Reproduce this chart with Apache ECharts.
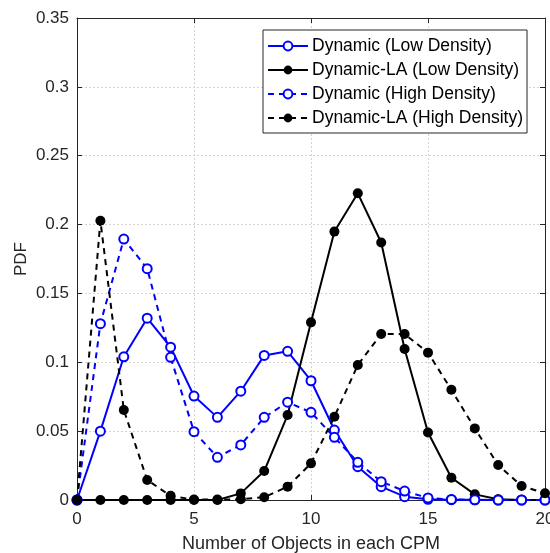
<!DOCTYPE html>
<html>
<head>
<meta charset="utf-8">
<script src="https://cdn.jsdelivr.net/npm/echarts@6/dist/echarts.min.js"></script>
<style>
  html, body { margin: 0; padding: 0; background: #fff; }
  #chart { width: 550px; height: 553px; }
</style>
</head>
<body>
<div id="chart"></div>
<script>
// Number of objects in each CPM (x positions)
const objectCounts = [0,1,2,3,4,5,6,7,8,9,10,11,12,13,14,15,16,17,18,19,20];

// PDF values per scheme
const dynamicLow = [0, 0.050, 0.104, 0.132, 0.111, 0.0755, 0.060, 0.079, 0.105, 0.108, 0.0866, 0.0508, 0.0242, 0.0097, 0.0024, 0.0005, 0.0002, 0.0001, 0, 0, 0];
const dynamicLALow = [0, 0, 0, 0, 0, 0, 0, 0.0048, 0.021, 0.0617, 0.129, 0.1949, 0.2227, 0.187, 0.1096, 0.049, 0.0162, 0.0041, 0.0005, 0, 0];
const dynamicHigh = [0, 0.128, 0.1895, 0.168, 0.1036, 0.0496, 0.031, 0.040, 0.060, 0.071, 0.0637, 0.0455, 0.0274, 0.0133, 0.0065, 0.0015, 0.0004, 0.0001, 0, 0, 0];
const dynamicLAHigh = [0, 0.2028, 0.0654, 0.0145, 0.003, 0.0003, 0.0003, 0.0005, 0.002, 0.0097, 0.0266, 0.0605, 0.098, 0.1205, 0.1205, 0.107, 0.080, 0.052, 0.0254, 0.0102, 0.0049];

const seriesNames = [
  'Dynamic (Low Density)',
  'Dynamic-LA (Low Density)',
  'Dynamic (High Density)',
  'Dynamic-LA (High Density)'
];

// x tick values and y tick values
const xTicks = [0, 5, 10, 15, 20];
const yTicks = [0, 0.05, 0.1, 0.15, 0.2, 0.25, 0.3, 0.35];

const pairs = (ys) => objectCounts.map((x, i) => [x, ys[i]]);

const BLUE = '#0000ff';
const BLACK = '#000000';
const FONT = 'Liberation Sans';
const AXIS_COLOR = '#262626';

function lineSeries(name, ys, color, dashed, filled) {
  return {
    name: name,
    type: 'line',
    data: pairs(ys),
    symbol: 'circle',
    symbolSize: filled ? 10 : 9,
    showAllSymbol: true,
    lineStyle: { color: color, width: 2, type: dashed ? [6, 5] : 'solid' },
    itemStyle: {
      color: filled ? color : '#ffffff',
      borderColor: color,
      borderWidth: filled ? 0 : 2
    },
    emphasis: { disabled: true },
    animation: false,
    z: 3
  };
}

const chart = echarts.init(document.getElementById('chart'), null, { renderer: 'canvas' });

const gridLine = { show: true, lineStyle: { color: '#d4d4d4', type: [2, 2], width: 1 } };
const frameAxisLine = { show: true, onZero: false, lineStyle: { color: AXIS_COLOR, width: 1 } };
const innerTicks = { show: true, inside: true, length: 5, lineStyle: { color: AXIS_COLOR } };

chart.setOption({
  backgroundColor: '#ffffff',
  animation: false,
  textStyle: { fontFamily: FONT },
  grid: { left: 77, right: 5, top: 18, bottom: 53, containLabel: false, outerBoundsMode: 'none' },
  legend: {
    orient: 'vertical',
    left: 263,
    top: 30,
    padding: [7, 4, 6, 4],
    itemGap: 6,
    itemWidth: 40,
    itemHeight: 11,
    backgroundColor: '#ffffff',
    borderColor: AXIS_COLOR,
    borderWidth: 1,
    borderRadius: 0,
    textStyle: { fontFamily: FONT, fontSize: 17.5, color: '#000', padding: [0, 0, 0, -1] },
    data: seriesNames
  },
  xAxis: [
    {
      type: 'value', min: 0, max: 20, interval: 5,
      name: 'Number of Objects in each CPM',
      nameLocation: 'middle', nameGap: 35,
      nameTextStyle: { fontFamily: FONT, fontSize: 18, color: AXIS_COLOR },
      axisLine: frameAxisLine,
      axisTick: innerTicks,
      axisLabel: { fontFamily: FONT, fontSize: 17, color: AXIS_COLOR, margin: 11,
        formatter: (v) => xTicks.includes(v) ? String(v) : '' },
      splitLine: gridLine
    },
    {
      type: 'value', min: 0, max: 20, interval: 5, position: 'top',
      axisLine: frameAxisLine,
      axisTick: innerTicks,
      axisLabel: { show: false },
      splitLine: { show: false }
    }
  ],
  yAxis: [
    {
      type: 'value', min: 0, max: 0.35, interval: 0.05,
      name: 'PDF',
      nameLocation: 'middle', nameGap: 47, nameRotate: 90, nameMoveOverlap: false,
      nameTextStyle: { fontFamily: FONT, fontSize: 17, color: AXIS_COLOR },
      axisLine: frameAxisLine,
      axisTick: innerTicks,
      axisLabel: { fontFamily: FONT, fontSize: 17, color: AXIS_COLOR, margin: 8,
        formatter: (v) => {
          const t = yTicks.find(k => Math.abs(k - v) < 1e-9);
          return t === undefined ? '' : String(Number(t.toFixed(2)));
        } },
      splitLine: gridLine
    },
    {
      type: 'value', min: 0, max: 0.35, interval: 0.05, position: 'right',
      axisLine: frameAxisLine,
      axisTick: innerTicks,
      axisLabel: { show: false },
      splitLine: { show: false }
    }
  ],
  series: [
    lineSeries(seriesNames[0], dynamicLow, BLUE, false, false),
    lineSeries(seriesNames[1], dynamicLALow, BLACK, false, true),
    lineSeries(seriesNames[2], dynamicHigh, BLUE, true, false),
    lineSeries(seriesNames[3], dynamicLAHigh, BLACK, true, true)
  ]
});
</script>
</body>
</html>
